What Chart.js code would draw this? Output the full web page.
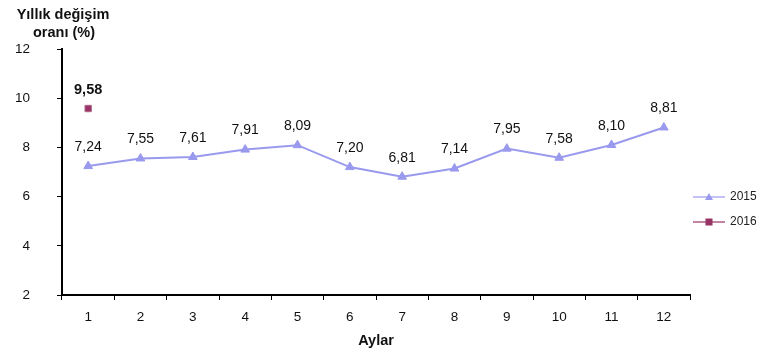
<!DOCTYPE html>
<html>
<head>
<meta charset="utf-8">
<script src="https://cdn.jsdelivr.net/npm/chart.js@4"></script>
<style>
  html, body { margin: 0; padding: 0; background: #fff; }
  #wrap { width: 770px; height: 363px; position: relative; }
</style>
</head>
<body>
<div id="wrap"><canvas id="chart"></canvas></div>
<script>
const months = ["1", "2", "3", "4", "5", "6", "7", "8", "9", "10", "11", "12"];
const values2015 = [7.24, 7.55, 7.61, 7.91, 8.09, 7.20, 6.81, 7.14, 7.95, 7.58, 8.10, 8.81];
const values2016 = [9.58, null, null, null, null, null, null, null, null, null, null, null];
const yTicks = [2, 4, 6, 8, 10, 12];

const FONT = "'Liberation Sans', Arial, sans-serif";
const C2015 = "#9999ee";
const C2016 = "#993366";

// value labels above the points, turkish decimal comma
const valueLabels = {
  id: "valueLabels",
  afterDatasetsDraw(chart) {
    const ctx = chart.ctx;
    ctx.save();
    ctx.textAlign = "center";
    ctx.textBaseline = "middle";
    ctx.fillStyle = "#111";
    chart.data.datasets.forEach((ds, i) => {
      const meta = chart.getDatasetMeta(i);
      ctx.font = (i === 1 ? "bold 14.5px " : "14px ") + FONT;
      meta.data.forEach((pt, j) => {
        const v = ds.data[j];
        if (v == null) return;
        ctx.fillText(v.toFixed(2).replace(".", ","), pt.x, pt.y - 19);
      });
    });
    ctx.restore();
  }
};

// axis title in the top-left corner and the legend on the right
const extras = {
  id: "extras",
  afterDraw(chart) {
    const ctx = chart.ctx;
    ctx.save();
    ctx.fillStyle = "#111";
    ctx.font = "bold 14.5px " + FONT;
    ctx.textAlign = "center";
    ctx.textBaseline = "middle";
    ctx.fillText("Yıllık değişim", 63, 15);
    ctx.fillText("oranı (%)", 64, 33);

    const items = [
      { label: "2015", color: C2015, y: 197, style: "triangle" },
      { label: "2016", color: C2016, y: 222, style: "rect" }
    ];
    items.forEach(it => {
      ctx.strokeStyle = it.color;
      ctx.lineWidth = 1.2;
      ctx.beginPath();
      ctx.moveTo(693, it.y);
      ctx.lineTo(725, it.y);
      ctx.stroke();
      ctx.fillStyle = it.color;
      ctx.beginPath();
      if (it.style === "triangle") {
        ctx.moveTo(709, it.y - 4);
        ctx.lineTo(713, it.y + 3);
        ctx.lineTo(705, it.y + 3);
        ctx.closePath();
      } else {
        ctx.rect(705.5, it.y - 3.5, 7, 7);
      }
      ctx.fill();
      ctx.fillStyle = "#222";
      ctx.font = "12px " + FONT;
      ctx.textAlign = "left";
      ctx.fillText(it.label, 730, it.y);
    });
    ctx.restore();
  }
};

new Chart(document.getElementById("chart"), {
  type: "line",
  data: {
    labels: months,
    datasets: [
      {
        label: "2015",
        data: values2015,
        borderColor: C2015,
        backgroundColor: C2015,
        borderWidth: 2,
        pointStyle: "triangle",
        pointRadius: 5,
        pointBorderWidth: 1,
        tension: 0
      },
      {
        label: "2016",
        data: values2016,
        borderColor: "#b0668a",
        backgroundColor: C2016,
        borderWidth: 1,
        pointStyle: "rect",
        pointRadius: 4.5,
        showLine: false
      }
    ]
  },
  options: {
    responsive: true,
    maintainAspectRatio: false,
    animation: false,
    layout: { padding: { left: 15, right: 80, top: 49, bottom: 0 } },
    plugins: {
      legend: { display: false },
      tooltip: { enabled: false }
    },
    scales: {
      x: {
        offset: true,
        grid: {
          offset: true,
          drawOnChartArea: false,
          drawTicks: true,
          tickLength: 5,
          color: "#000",
          lineWidth: 1
        },
        border: { color: "#000", width: 2 },
        ticks: {
          color: "#111",
          font: { family: FONT, size: 13.5 },
          padding: 9,
          maxRotation: 0
        },
        title: {
          display: true,
          text: "Aylar",
          color: "#111",
          font: { family: FONT, size: 14.5, weight: "bold" },
          padding: { top: 4, bottom: 13 }
        },
        afterFit(scale) { scale.height = 68; }
      },
      y: {
        min: 2,
        max: 12,
        afterBuildTicks(scale) {
          scale.ticks = yTicks.map(v => ({ value: v }));
        },
        grid: {
          drawOnChartArea: false,
          drawTicks: true,
          tickLength: 5,
          color: "#000",
          lineWidth: 1
        },
        border: { color: "#000", width: 2 },
        ticks: {
          color: "#111",
          font: { family: FONT, size: 13.5 },
          padding: 27
        },
        afterFit(scale) { scale.width = 47; }
      }
    }
  },
  plugins: [valueLabels, extras]
});
</script>
</body>
</html>
